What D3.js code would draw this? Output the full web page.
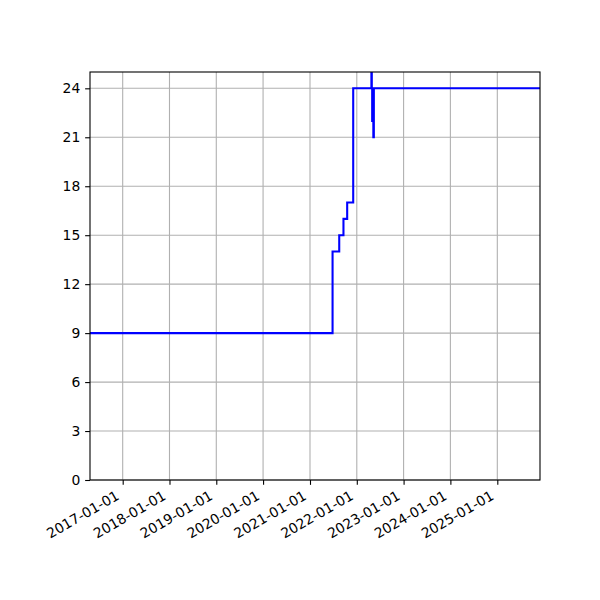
<!DOCTYPE html>
<html>
<head>
<meta charset="utf-8">
<script src="https://cdn.jsdelivr.net/npm/d3@7"></script>
<style>
  body { margin: 0; background: #fff; }
  text { font-family: "DejaVu Sans", sans-serif; }
</style>
</head>
<body>
<div class="d3Chart"></div>
<script>
// step series (value holds until the next date)
const dates = [
  '2016-04-21', '2021-06-26', '2021-08-17', '2021-09-19', '2021-10-18',
  '2021-12-04', '2022-04-25', '2022-04-28', '2022-05-01', '2022-05-05',
  '2022-05-10', '2022-05-14', '2025-11-30'
]
const values = [9, 14, 15, 16, 17, 24, 30, 24, 22, 24, 21, 24, 24]
const yTicks = [0, 3, 6, 9, 12, 15, 18, 21, 24]
const xTicks = ['2017-01-01', '2018-01-01', '2019-01-01', '2020-01-01', '2021-01-01',
  '2022-01-01', '2023-01-01', '2024-01-01', '2025-01-01']

const width = 600
const height = 600
const plotLeft = 90, plotRight = 540, plotTop = 72, plotBottom = 480
const fontSize = 13.9

const parse = d3.utcParse('%Y-%m-%d')
const data = dates.map((d, i) => ({ date: parse(d), value: values[i] }))

const x = d3.scaleUtc().domain(d3.extent(data, d => d.date)).range([plotLeft, plotRight])
const y = d3.scaleLinear().domain([0, 25]).range([plotBottom, plotTop])

const svg = d3.select('.d3Chart')
  .append('svg')
  .attr('width', width)
  .attr('height', height)

svg.append('defs').append('clipPath')
  .attr('id', 'plot-clip')
  .append('rect')
  .attr('x', plotLeft).attr('y', plotTop)
  .attr('width', plotRight - plotLeft).attr('height', plotBottom - plotTop)

// grid
const grid = svg.append('g').attr('stroke', '#b0b0b0').attr('stroke-width', 1.1)
grid.selectAll('.gx')
  .data(xTicks)
  .enter()
  .append('line')
  .attr('x1', d => x(parse(d))).attr('x2', d => x(parse(d)))
  .attr('y1', plotTop).attr('y2', plotBottom)
grid.selectAll('.gy')
  .data(yTicks)
  .enter()
  .append('line')
  .attr('x1', plotLeft).attr('x2', plotRight)
  .attr('y1', d => y(d)).attr('y2', d => y(d))

// line
const line = d3.line()
  .curve(d3.curveStepAfter)
  .x(d => x(d.date))
  .y(d => y(d.value))

svg.append('path')
  .datum(data)
  .attr('clip-path', 'url(#plot-clip)')
  .attr('d', line)
  .attr('fill', 'none')
  .attr('stroke', '#0000ff')
  .attr('stroke-width', 2.08)

// axes
const yAxis = svg.append('g')
  .attr('transform', `translate(${plotLeft},0)`)
  .call(d3.axisLeft(y).tickValues(yTicks).tickSize(4.86).tickPadding(4.86))
const xAxis = svg.append('g')
  .attr('transform', `translate(0,${plotBottom})`)
  .call(d3.axisBottom(x).tickValues(xTicks.map(parse)).tickSize(4.86).tickFormat(d3.utcFormat('%Y-%m-%d')))

for (const ax of [yAxis, xAxis]) {
  ax.select('.domain').remove()
  ax.selectAll('line').attr('stroke', '#000').attr('stroke-width', 1.1)
  ax.selectAll('text').attr('fill', '#000').attr('font-size', fontSize)
    .attr('font-family', '"DejaVu Sans", sans-serif')
}

xAxis.selectAll('text')
  .attr('y', 0)
  .attr('dy', 0)
  .attr('text-anchor', 'end')
  .attr('transform', 'translate(-3,18.5) rotate(-30)')

// frame
svg.append('rect')
  .attr('x', plotLeft).attr('y', plotTop)
  .attr('width', plotRight - plotLeft).attr('height', plotBottom - plotTop)
  .attr('fill', 'none')
  .attr('stroke', '#000')
  .attr('stroke-width', 1.1)
</script>
</body>
</html>
